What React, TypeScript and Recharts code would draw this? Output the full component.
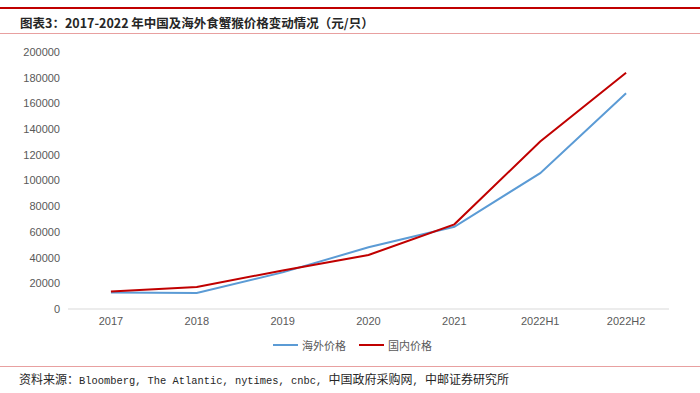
import { LineChart, Line, XAxis, YAxis } from 'recharts';

const categories = ['2017', '2018', '2019', '2020', '2021', '2022H1', '2022H2'];
const overseasPrice = [12900, 12400, 28500, 48000, 64000, 105700, 167900];
const domesticPrice = [13700, 17100, 30000, 42000, 65900, 130300, 183900];
const yTicks = [0, 20000, 40000, 60000, 80000, 100000, 120000, 140000, 160000, 180000, 200000];

const data = categories.map((name, i) => ({
  name,
  overseas: overseasPrice[i],
  domestic: domesticPrice[i],
}));

const cjk = '"Noto Sans CJK SC", "Noto Sans", sans-serif';
const mono = '"Liberation Mono", "DejaVu Sans Mono", monospace';
const tickStyle = { fill: '#595959', fontSize: 11, fontFamily: '"Liberation Sans", Arial, sans-serif' };

export default function App() {
  return (
    <div style={{ position: 'absolute', left: 0, top: 0, width: 700, height: 393, background: '#fff', overflow: 'hidden' }}>
      {/* header rules + title */}
      <div style={{ position: 'absolute', left: 0, top: 7, width: 700, height: 2, background: '#c00000' }} />
      <div style={{ position: 'absolute', left: 20, top: 14, fontFamily: cjk, fontWeight: 700, fontSize: 12.5, color: '#262626', lineHeight: '18px', whiteSpace: 'nowrap' }}>
        图表3：2017-2022 年中国及海外食蟹猴价格变动情况（元/只）
      </div>
      <div style={{ position: 'absolute', left: 0, top: 33, width: 700, height: 1, background: '#e8a0a0' }} />

      <div style={{ position: 'absolute', left: 0, top: 0 }}>
        <LineChart width={700} height={330} data={data} margin={{ top: 52, right: 31, left: 0, bottom: 0 }}>
          <XAxis
            dataKey="name"
            scale="band"
            height={21}
            tickLine={false}
            axisLine={{ stroke: '#d9d9d9' }}
            tick={tickStyle}
          />
          <YAxis
            width={68}
            domain={[0, 200000]}
            ticks={yTicks}
            interval={0}
            axisLine={false}
            tickLine={false}
            tick={tickStyle}
          />
          <Line type="linear" dataKey="overseas" stroke="#5b9bd5" strokeWidth={2} dot={false} isAnimationActive={false} />
          <Line type="linear" dataKey="domestic" stroke="#c00000" strokeWidth={2} dot={false} isAnimationActive={false} />
        </LineChart>
      </div>

      {/* legend */}
      <div style={{ position: 'absolute', left: 273, top: 337, display: 'flex', alignItems: 'center', fontFamily: cjk, fontSize: 11, color: '#595959', lineHeight: '16px' }}>
        <span style={{ display: 'inline-block', width: 25, height: 2, background: '#5b9bd5', marginRight: 4 }} />
        <span>海外价格</span>
        <span style={{ display: 'inline-block', width: 25, height: 2, background: '#c00000', marginLeft: 13, marginRight: 4 }} />
        <span>国内价格</span>
      </div>

      {/* footer rule + source */}
      <div style={{ position: 'absolute', left: 0, top: 366, width: 700, height: 1, background: '#e8a0a0' }} />
      <div style={{ position: 'absolute', left: 19, top: 371, fontFamily: cjk, fontSize: 12, color: '#262626', lineHeight: '16px', whiteSpace: 'nowrap' }}>
        资料来源：<span style={{ fontFamily: mono, fontSize: 10.4 }}>Bloomberg, The Atlantic, nytimes, cnbc, </span>中国政府采购网<span style={{ fontFamily: mono, fontSize: 10.4 }}>, </span>中邮证券研究所
      </div>
    </div>
  );
}
